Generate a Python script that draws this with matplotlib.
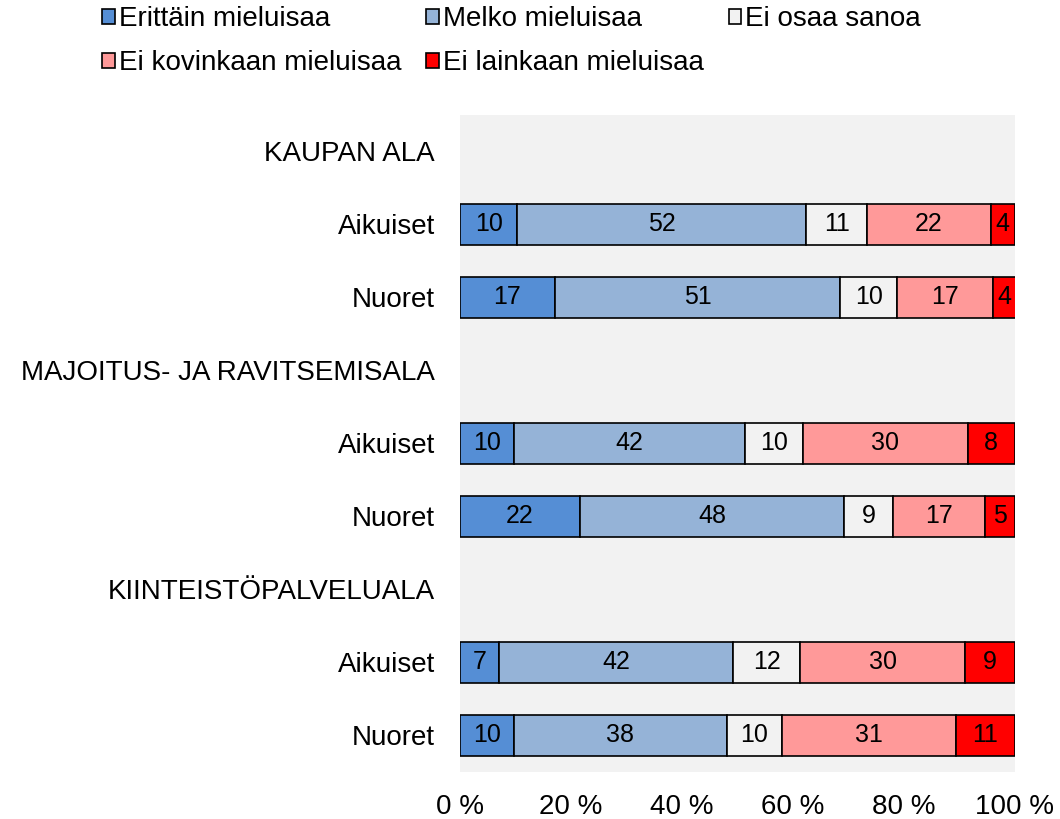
import matplotlib
matplotlib.use("Agg")
import matplotlib.pyplot as plt
import matplotlib.ticker as mticker
from matplotlib.patches import Patch
import numpy as np

plt.rcParams["font.family"] = ["Liberation Sans", "DejaVu Sans"]

# rows from top to bottom; header rows carry no bar
row_labels = ["KAUPAN ALA", "Aikuiset", "Nuoret",
              "MAJOITUS- JA RAVITSEMISALA", "Aikuiset", "Nuoret",
              "KIINTEISTÖPALVELUALA", "Aikuiset", "Nuoret"]
series_names = ["Erittäin mieluisaa", "Melko mieluisaa", "Ei osaa sanoa",
                "Ei kovinkaan mieluisaa", "Ei lainkaan mieluisaa"]
colors = ["#558ED5", "#95B3D7", "#F2F2F2", "#FF9999", "#FF0000"]

# shares (%) per series, one value per row (nan = header row)
erittain = [np.nan, 10.3, 17.1, np.nan, 9.7, 21.6, np.nan, 7.0, 9.7]
melko = [np.nan, 52.1, 51.4, np.nan, 41.6, 47.6, np.nan, 42.2, 38.4]
ei_osaa = [np.nan, 11.0, 10.3, np.nan, 10.5, 8.8, np.nan, 12.1, 9.9]
ei_kovin = [np.nan, 22.2, 17.3, np.nan, 29.7, 16.6, np.nan, 29.7, 31.4]
ei_lainkaan = [np.nan, 4.4, 4.0, np.nan, 8.5, 5.4, np.nan, 9.0, 10.6]

series = [erittain, melko, ei_osaa, ei_kovin, ei_lainkaan]

fig = plt.figure(figsize=(10.6, 8.19), dpi=100)
ax = fig.add_axes([0.434, 0.0574, 0.5235, 0.8022])
ax.set_facecolor("#F2F2F2")

y = np.arange(len(row_labels))
left = np.zeros(len(row_labels))
for name, vals, col in zip(series_names, series, colors):
    vals = np.array(vals, dtype=float)
    mask = ~np.isnan(vals)
    ax.barh(y[mask], vals[mask], left=left[mask], height=0.55,
            color=col, edgecolor="black", linewidth=1.2, label=name)
    for yi, v, l in zip(y[mask], vals[mask], left[mask]):
        ax.text(l + v / 2, yi, f"{round(v):d}", ha="center", va="center",
                fontsize=18, color="black")
    left[mask] += vals[mask]

ax.set_xlim(0, 100)
ax.set_ylim(len(row_labels) - 0.5, -0.5)
ax.set_yticks(y)
ax.set_yticklabels(row_labels, fontsize=20)
ax.xaxis.set_major_locator(mticker.MultipleLocator(20))
ax.xaxis.set_major_formatter(mticker.FuncFormatter(lambda v, _: f"{int(v)} %"))
ax.tick_params(axis="x", labelsize=20, length=0, pad=16)
ax.tick_params(axis="y", length=0, pad=18)
for s in ax.spines.values():
    s.set_visible(False)

handles = [Patch(facecolor=c, edgecolor="black", linewidth=1.2) for c in colors]
order = [0, 3, 1, 4, 2]
fig.legend([handles[i] for i in order], [series_names[i] for i in order],
           ncol=3, loc="upper left", bbox_to_anchor=(0.078, 1.016),
           frameon=False, fontsize=20, handlelength=0.45, handleheight=0.45,
           handletextpad=0.15, columnspacing=0.9, labelspacing=0.65,
           borderaxespad=0.3)

fig.savefig("out.png", dpi=100)
